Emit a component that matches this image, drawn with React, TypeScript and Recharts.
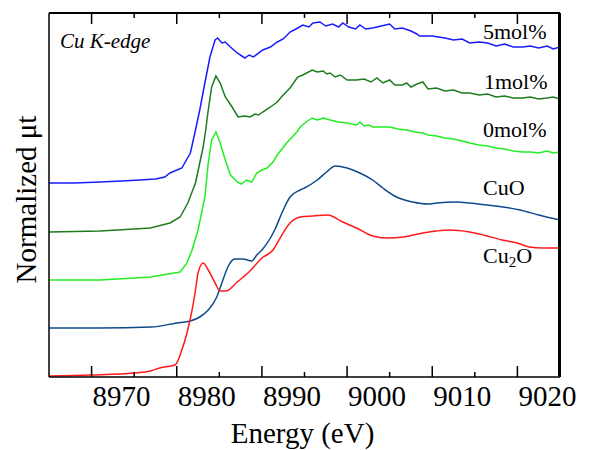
import React from 'react';
import { LineChart, Line, XAxis, YAxis, Customized } from 'recharts';

// Energy (eV) and normalized absorption (arbitrary offset units) per spectrum
const mol5Energy = [8965.0, 8968.0, 8971.0, 8973.5, 8975.7, 8977.5, 8978.6, 8979.2, 8980.6, 8981.6, 8982.2, 8982.7, 8983.3, 8983.9, 8984.5, 8984.8, 8985.3, 8985.7, 8986.3, 8987.1, 8988.0, 8988.5, 8989.0, 8990.1, 8991.0, 8991.8, 8992.5, 8993.3, 8994.0, 8994.8, 8995.5, 8996.0, 8996.8, 8997.5, 8998.3, 8999.0, 8999.5, 9000.2, 9001.0, 9001.5, 9002.2, 9003.0, 9004.0, 9005.0, 9005.6, 9006.5, 9007.5, 9008.2, 9008.5, 9010.0, 9011.5, 9012.5, 9013.5, 9014.4, 9015.5, 9016.5, 9017.5, 9018.5, 9019.5, 9020.6, 9021.5, 9022.5, 9023.5, 9024.2, 9025.0];
const mol5Mu = [194, 194, 195, 196, 197, 198, 200, 204, 209, 224, 247, 267, 294, 320, 337, 339, 334, 335, 330, 324, 319, 322, 320, 327, 330, 335, 338, 345, 348, 352, 350, 354, 355, 351, 353, 350, 354, 350, 348, 352, 348, 349, 351, 353, 348, 349, 346, 343, 341, 341, 339, 337, 338, 334, 335, 334, 331, 333, 330, 330, 331, 329, 331, 328, 330];

const mol1Energy = [8965.0, 8971.0, 8975.0, 8976.9, 8979.2, 8980.4, 8981.3, 8982.2, 8982.7, 8983.1, 8983.4, 8983.7, 8984.1, 8984.6, 8985.1, 8985.7, 8986.5, 8987.2, 8988.0, 8988.6, 8989.2, 8989.6, 8990.1, 8991.0, 8991.8, 8992.5, 8993.3, 8994.2, 8994.8, 8995.9, 8996.5, 8997.2, 8997.6, 8998.0, 8998.6, 8999.2, 9000.0, 9001.1, 9002.0, 9002.8, 9003.5, 9004.2, 9005.0, 9005.6, 9006.5, 9007.0, 9007.5, 9008.2, 9008.9, 9009.5, 9010.5, 9011.5, 9012.5, 9013.5, 9014.4, 9015.5, 9016.5, 9017.5, 9018.5, 9019.5, 9020.6, 9021.5, 9022.5, 9023.5, 9024.2, 9025.0];
const mol1Mu = [145, 146, 148, 149, 154, 160, 174, 194, 214, 230, 247, 267, 290, 301, 294, 280, 270, 260, 261, 260, 263, 262, 265, 270, 275, 282, 289, 300, 302, 307, 305, 306, 303, 304, 300, 302, 297, 297, 298, 295, 299, 294, 297, 292, 292, 294, 290, 293, 295, 288, 289, 286, 287, 284, 284, 282, 283, 280, 281, 279, 279, 280, 278, 279, 280, 278];

const mol0Energy = [8965.0, 8971.0, 8975.0, 8976.9, 8980.4, 8981.2, 8981.8, 8982.5, 8983.3, 8983.7, 8984.1, 8984.6, 8985.1, 8985.7, 8986.3, 8987.1, 8987.6, 8988.2, 8988.8, 8989.4, 8990.0, 8990.6, 8991.3, 8991.8, 8992.9, 8994.1, 8994.5, 8995.2, 8995.9, 8996.5, 8997.2, 8998.0, 8999.0, 9000.0, 9001.1, 9001.5, 9002.0, 9002.5, 9003.0, 9004.0, 9005.0, 9006.0, 9007.0, 9008.0, 9008.9, 9009.5, 9010.5, 9011.5, 9012.5, 9013.5, 9014.4, 9015.5, 9016.5, 9017.5, 9018.5, 9019.5, 9020.6, 9021.5, 9022.5, 9023.5, 9024.2, 9025.0];
const mol0Mu = [97, 97, 99, 100, 105, 114, 127, 147, 180, 214, 237, 245, 234, 217, 202, 195, 193, 197, 195, 204, 207, 209, 215, 222, 234, 245, 250, 255, 259, 257, 259, 257, 255, 254, 252, 255, 251, 252, 250, 250, 250, 248, 247, 245, 244, 242, 241, 239, 238, 236, 234, 232, 231, 229, 228, 226, 225, 225, 224, 226, 224, 225];

const cuoEnergy = [8965.0, 8971.0, 8977.0, 8980.0, 8981.6, 8982.7, 8983.7, 8984.7, 8985.3, 8986.0, 8986.8, 8987.8, 8988.8, 8989.4, 8990.0, 8991.5, 8992.5, 8993.3, 8994.5, 8995.0, 8996.5, 8997.6, 8998.6, 9000.0, 9001.5, 9003.0, 9004.2, 9005.8, 9007.7, 9009.5, 9010.5, 9012.9, 9014.4, 9016.4, 9018.3, 9020.3, 9022.5, 9025.0];
const cuoMu = [49, 49, 50, 54, 56, 60, 67, 80, 94, 110, 118, 118, 116, 122, 127, 147, 167, 180, 187, 189, 197, 205, 211, 209, 204, 197, 189, 180, 175, 173, 174, 175, 174, 172, 170, 167, 162, 157];

const cu2oEnergy = [8965.0, 8970.0, 8975.0, 8976.9, 8978.0, 8979.8, 8980.6, 8981.2, 8981.8, 8982.2, 8982.5, 8983.1, 8983.7, 8984.5, 8985.1, 8985.8, 8987.1, 8988.6, 8990.0, 8991.3, 8991.8, 8993.3, 8994.5, 8996.0, 8997.7, 8999.5, 9001.1, 9003.0, 9004.7, 9006.6, 9008.9, 9010.5, 9012.0, 9014.4, 9016.0, 9018.2, 9020.0, 9021.4, 9023.0, 9025.0];
const cu2oMu = [1, 2, 4, 6, 9, 12, 27, 44, 67, 87, 104, 114, 107, 94, 86, 86, 95, 106, 119, 127, 134, 154, 160, 161, 162, 155, 149, 141, 139, 140, 144, 146, 147, 145, 142, 137, 134, 130, 129, 129];

const xTicks = [8970, 8975, 8980, 8985, 8990, 8995, 9000, 9005, 9010, 9015, 9020];
const xDomain = [8965, 9025];
const yDomain = [0, 364];

const toPoints = (e: number[], m: number[]) => e.map((v, i) => ({ e: v, mu: m[i] }));

const series = [
  { name: '5mol%', data: toPoints(mol5Energy, mol5Mu), color: '#1a1aff', curve: 'linear' },
  { name: '1mol%', data: toPoints(mol1Energy, mol1Mu), color: '#1e7b1e', curve: 'linear' },
  { name: '0mol%', data: toPoints(mol0Energy, mol0Mu), color: '#22ee22', curve: 'linear' },
  { name: 'CuO', data: toPoints(cuoEnergy, cuoMu), color: '#0d4a8c', curve: 'monotone' },
  { name: 'Cu2O', data: toPoints(cu2oEnergy, cu2oMu), color: '#ff1a1a', curve: 'monotone' },
];

// layout
const CHART_W = 582;
const CHART_H = 442;
const MARGIN = { top: 5, right: 30, bottom: 0, left: 40 };
const Y_AXIS_W = 1;
const X_AXIS_H = 73;
const PLOT = {
  x: MARGIN.left + Y_AXIS_W,
  y: MARGIN.top,
  w: CHART_W - MARGIN.left - Y_AXIS_W - MARGIN.right,
  h: CHART_H - MARGIN.top - MARGIN.bottom - X_AXIS_H,
};

const FONT = '"Liberation Serif"';
const txt = (size: number, extra: any = {}) => ({ fontFamily: FONT, fontSize: size, ...extra });
const isMajor = (v: number) => v % 10 === 0;

// inward tick on the bottom axis, the matching inward tick on the top frame edge, and the label
const BottomTick = (props: any) => {
  const { x, y, payload } = props;
  const v = payload.value;
  const len = isMajor(v) ? 11 : 5;
  const top = y - PLOT.h;
  return (
    <g>
      <line x1={x} y1={y} x2={x} y2={y - len} stroke="#000" strokeWidth={1.5} />
      <line x1={x} y1={top} x2={x} y2={top + len} stroke="#000" strokeWidth={1.5} />
      {isMajor(v) && (
        <text x={x + 1} y={y + 29} textAnchor="start" fill="#000" style={txt(29)}>
          {v}
        </text>
      )}
    </g>
  );
};

const Annotations = () => (
  <g fill="#000">
    <line x1={PLOT.x} y1={PLOT.y} x2={PLOT.x + PLOT.w} y2={PLOT.y} stroke="#000" strokeWidth={2} />
    <line x1={PLOT.x + PLOT.w} y1={PLOT.y} x2={PLOT.x + PLOT.w} y2={PLOT.y + PLOT.h} stroke="#000" strokeWidth={2} />
    <text x={52} y={40} style={txt(21, { fontStyle: 'italic' })}>Cu K-edge</text>
    <text x={475} y={31} style={txt(22)}>5mol%</text>
    <text x={476} y={81} style={txt(22)}>1mol%</text>
    <text x={475} y={129} style={txt(22)}>0mol%</text>
    <text x={475} y={187} style={txt(22)}>CuO</text>
    <text x={475} y={255} style={txt(22)}>
      Cu<tspan style={{ fontSize: 15 }} dy={4}>2</tspan><tspan dy={-4}>O</tspan>
    </text>
    <text x={294.5} y={435} textAnchor="middle" style={txt(29)}>Energy (eV)</text>
    <text x={28} y={191.5} textAnchor="middle" transform="rotate(-90 28 191.5)" style={txt(29)}>Normalized μt</text>
  </g>
);

export default function App() {
  return (
    <div style={{ position: 'relative', width: CHART_W, height: CHART_H, fontFamily: FONT }}>
      <LineChart width={CHART_W} height={CHART_H} margin={MARGIN}>
        <XAxis
          dataKey="e"
          type="number"
          domain={xDomain}
          ticks={xTicks}
          interval={0}
          allowDataOverflow
          height={X_AXIS_H}
          tickSize={0}
          tickMargin={0}
          tickLine={false}
          tick={<BottomTick />}
          axisLine={{ stroke: '#000', strokeWidth: 1.5 }}
        />
        <YAxis
          type="number"
          domain={yDomain}
          allowDataOverflow
          width={Y_AXIS_W}
          tick={false}
          tickLine={false}
          axisLine={{ stroke: '#000', strokeWidth: 1.5 }}
        />
        {series.map((s) => (
          <Line
            key={s.name}
            data={s.data}
            dataKey="mu"
            name={s.name}
            type={s.curve as any}
            stroke={s.color}
            strokeWidth={1.5}
            dot={false}
            activeDot={false}
            isAnimationActive={false}
          />
        ))}
        <Customized component={Annotations} />
      </LineChart>
      {/* top and right edges of the plot frame */}
      <div
        style={{
          position: 'absolute',
          left: PLOT.x,
          top: PLOT.y - 1,
          width: PLOT.w,
          height: PLOT.h,
          borderTop: '2px solid #000',
          borderRight: '2px solid #000',
          boxSizing: 'border-box',
          pointerEvents: 'none',
        }}
      />
    </div>
  );
}
